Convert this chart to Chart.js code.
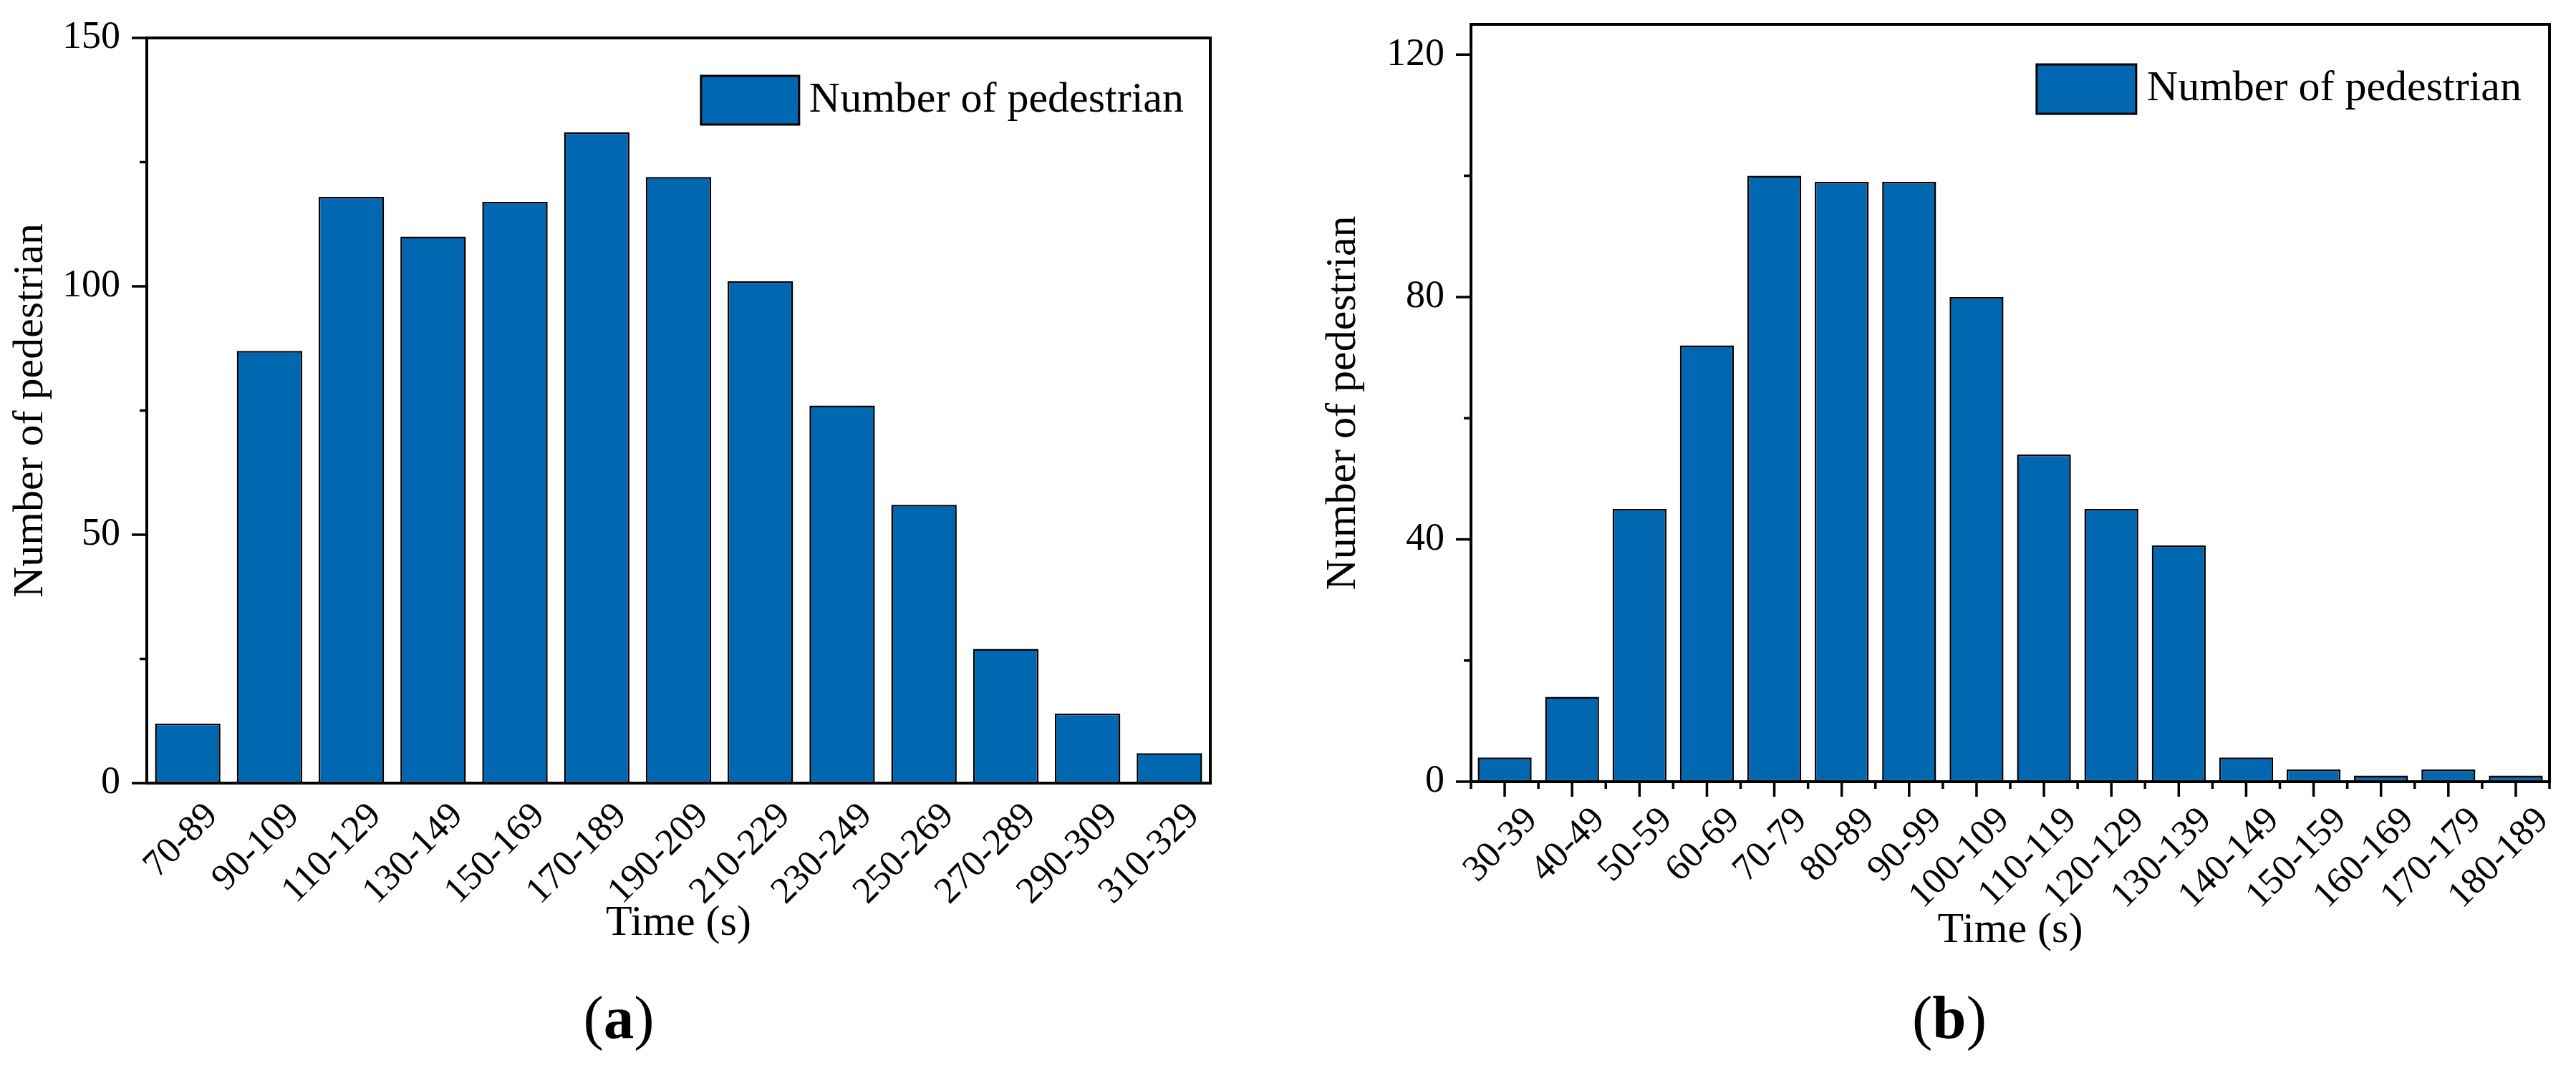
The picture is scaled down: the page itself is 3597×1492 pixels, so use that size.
<!DOCTYPE html>
<html>
<head>
<meta charset="utf-8">
<script src="https://cdn.jsdelivr.net/npm/chart.js@4.4.1/dist/chart.umd.min.js"></script>
<style>
  html, body { margin: 0; padding: 0; background: #fff; }
  #pagina { position: relative; width: 3597px; height: 1492px; overflow: hidden; background: #fff; }
  canvas { position: absolute; top: 0; }
  .legenda-fig { position: absolute; top: 1379px; font: 85px 'Liberation Serif', 'Times New Roman', serif; line-height: 85px; transform: translateX(-50%); white-space: nowrap; color: #000; }
</style>
</head>
<body>
<div id="pagina">
  <canvas id="grafico-a" width="1780" height="1340" style="left:0px"></canvas>
  <canvas id="grafico-b" width="1817" height="1340" style="left:1780px"></canvas>
  <div class="legenda-fig" style="left:864px">(<b>a</b>)</div>
  <div class="legenda-fig" style="left:2722px">(<b>b</b>)</div>
</div>
<script>
// Dados do painel (a)
const categoriasA = ['70-89', '90-109', '110-129', '130-149', '150-169', '170-189', '190-209',
  '210-229', '230-249', '250-269', '270-289', '290-309', '310-329'];
const pedestresA = [12, 87, 118, 110, 117, 131, 122, 101, 76, 56, 27, 14, 6];
const ticksYA = [0, 50, 100, 150];
const maxYA = 150;

// Dados do painel (b)
const categoriasB = ['30-39', '40-49', '50-59', '60-69', '70-79', '80-89', '90-99', '100-109',
  '110-119', '120-129', '130-139', '140-149', '150-159', '160-169', '170-179', '180-189'];
const pedestresB = [4, 14, 45, 72, 100, 99, 99, 80, 54, 45, 39, 4, 2, 1, 2, 1];
const ticksYB = [0, 40, 80, 120];
const maxYB = 125;

const nomeSerie = 'Number of pedestrian';
const tituloX = 'Time (s)';
const tituloY = 'Number of pedestrian';

const FONTE = "'Liberation Serif', 'Times New Roman', serif";
const AZUL = '#0067B0';

// moldura do gráfico + marcas dos eixos (desenhadas por cima das barras)
const moldura = {
  id: 'moldura',
  afterDatasetsDraw(chart, args, o) {
    const { ctx, chartArea: { left, right, top, bottom } } = chart;
    const sy = chart.scales.y, sx = chart.scales.x;
    ctx.save();
    ctx.strokeStyle = '#000';
    ctx.lineWidth = 3.5;
    ctx.beginPath();
    const maiores = sy.ticks.map(t => t.value);
    maiores.forEach((v, i) => {
      const py = sy.getPixelForValue(v);
      ctx.moveTo(left - o.tickMaior, py); ctx.lineTo(left, py);
      if (i < maiores.length - 1) {
        const pm = sy.getPixelForValue((v + maiores[i + 1]) / 2);
        ctx.moveTo(left - o.tickMenor, pm); ctx.lineTo(left, pm);
      }
    });
    if (o.ticksX) {
      const n = chart.data.labels.length;
      for (let i = 0; i < n; i++) {
        const px = sx.getPixelForValue(i);
        ctx.moveTo(px, bottom); ctx.lineTo(px, bottom + o.tickMaior);
      }
      for (let i = 0; i <= n; i++) {
        const px = sx.getPixelForValue(i - 0.5);
        ctx.moveTo(px, bottom); ctx.lineTo(px, bottom + o.tickMenor);
      }
    }
    ctx.stroke();
    ctx.lineWidth = 4;
    ctx.strokeRect(left, top, right - left, bottom - top);
    ctx.restore();
  }
};

// legenda dentro da área do gráfico, canto superior direito
const caixaLegenda = {
  id: 'caixaLegenda',
  afterDraw(chart, args, o) {
    const { ctx, chartArea } = chart;
    const ds = chart.data.datasets[0];
    ctx.save();
    ctx.font = '60px ' + FONTE;
    const w = ctx.measureText(ds.label).width;
    const xTexto = chartArea.right - o.margemDireita - w;
    const xCaixa = xTexto - o.espaco - o.largura;
    const yCaixa = chartArea.top + o.margemTopo;
    ctx.fillStyle = ds.backgroundColor;
    ctx.fillRect(xCaixa, yCaixa, o.largura, o.altura);
    ctx.lineWidth = 3;
    ctx.strokeStyle = '#000';
    ctx.strokeRect(xCaixa, yCaixa, o.largura, o.altura);
    ctx.fillStyle = '#000';
    ctx.textBaseline = 'middle';
    ctx.fillText(ds.label, xTexto, yCaixa + o.altura / 2);
    ctx.restore();
  }
};

function criarGrafico(id, cfg) {
  const ctx = document.getElementById(id).getContext('2d');
  return new Chart(ctx, {
    type: 'bar',
    data: {
      labels: cfg.categorias,
      datasets: [{
        label: nomeSerie,
        data: cfg.valores,
        backgroundColor: AZUL,
        borderColor: '#000',
        borderWidth: 2.5,
        borderSkipped: false,
        barPercentage: 0.8,
        categoryPercentage: 1
      }]
    },
    options: {
      responsive: false,
      devicePixelRatio: 1,
      animation: false,
      layout: { padding: cfg.padding },
      plugins: {
        legend: { display: false },
        tooltip: { enabled: false },
        moldura: { tickMaior: 21, tickMenor: 10, ticksX: cfg.ticksX },
        caixaLegenda: cfg.legenda
      },
      scales: {
        x: {
          grid: { display: false, drawTicks: false },
          border: { display: false },
          ticks: {
            autoSkip: false, minRotation: 45, maxRotation: 45,
            labelOffset: cfg.deslocRotulo, padding: cfg.padRotulo,
            color: '#000', font: { family: FONTE, size: 52 }
          },
          title: {
            display: true, text: tituloX, color: '#000',
            font: { family: FONTE, size: 60 },
            padding: { top: 0, bottom: cfg.padTituloX }
          },
          afterFit: s => { s.height = cfg.alturaX; s.paddingLeft = 0; s.paddingRight = 0; }
        },
        y: {
          min: 0,
          max: cfg.maxY,
          grid: { display: false, drawTicks: false },
          border: { display: false },
          afterBuildTicks: s => { s.ticks = cfg.ticksY.map(v => ({ value: v })); },
          ticks: { padding: 37, color: '#000', font: { family: FONTE, size: 54 } },
          title: {
            display: true, text: tituloY, color: '#000',
            font: { family: FONTE, size: 60 },
            padding: { top: cfg.padTituloY, bottom: 0 }
          },
          // largura fixa e sem folga extra em cima/embaixo
          afterFit: s => { s.width = cfg.larguraY; s.paddingTop = 0; s.paddingBottom = 0; }
        }
      }
    },
    plugins: [moldura, caixaLegenda]
  });
}

criarGrafico('grafico-a', {
  categorias: categoriasA, valores: pedestresA, ticksY: ticksYA, maxY: maxYA,
  padding: { left: 0, top: 53, right: 90, bottom: 0 },
  larguraY: 205, alturaX: 246,
  padTituloY: 7, padTituloX: 14,
  deslocRotulo: 34, padRotulo: 16,
  ticksX: false,
  legenda: { largura: 137, altura: 68, espaco: 14, margemDireita: 37, margemTopo: 53 }
});

criarGrafico('grafico-b', {
  categorias: categoriasB, valores: pedestresB, ticksY: ticksYB, maxY: maxYB,
  padding: { left: 0, top: 34, right: 37, bottom: 0 },
  larguraY: 274, alturaX: 248,
  padTituloY: 60, padTituloX: 4,
  deslocRotulo: 38, padRotulo: 24,
  ticksX: true,
  legenda: { largura: 139, altura: 69, espaco: 15, margemDireita: 39, margemTopo: 56 }
});
</script>
</body>
</html>
